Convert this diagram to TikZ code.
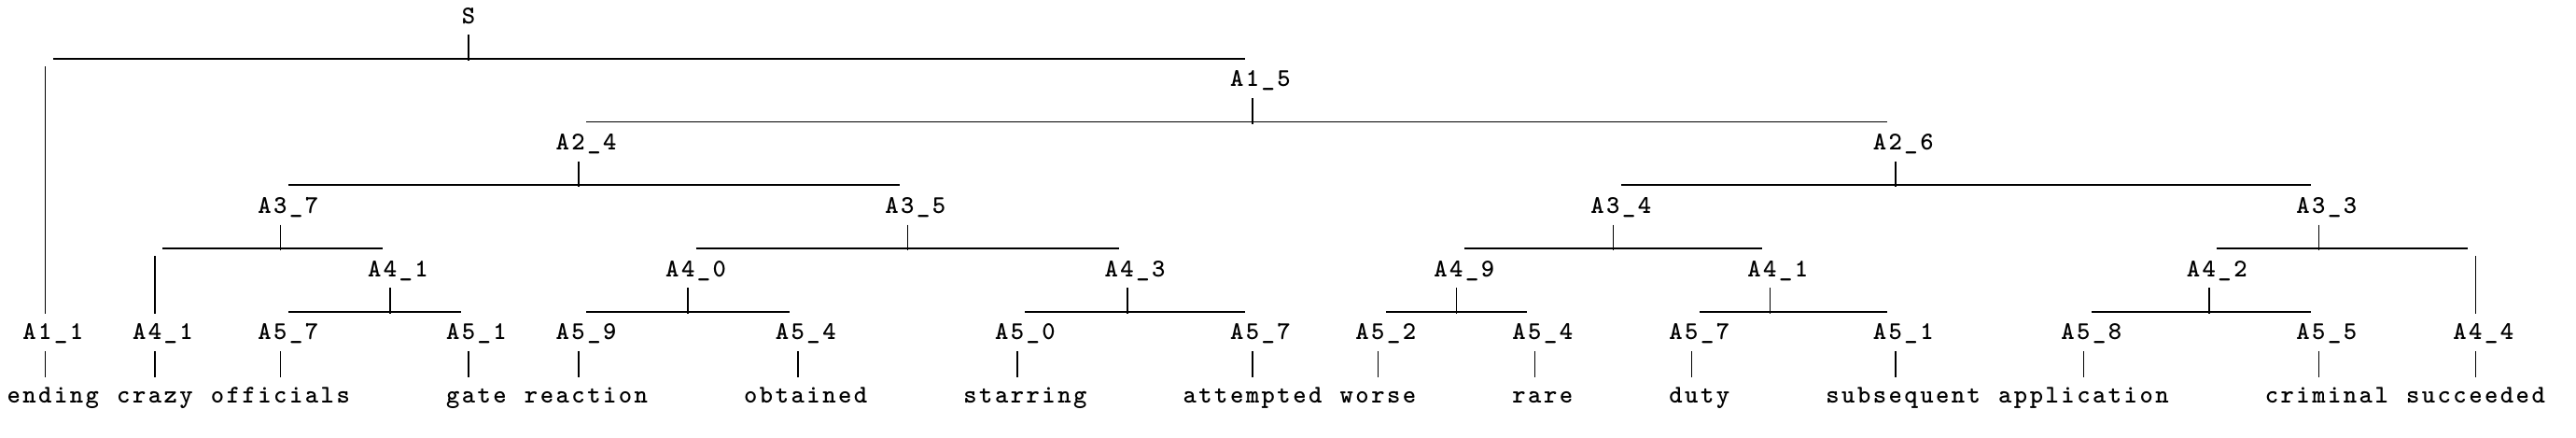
\documentclass[tikz,border=0pt]{standalone}
\usepackage{fontspec}
\usetikzlibrary{calc}

% bold typewriter face with Courier-like pitch (6pt per character)
\newfontfamily\lmttbold{lmmonolt10-bold.otf}[LetterSpace=9.1]
\newcommand\treefont{\fontsize{9.75}{11}\lmttbold}
% even-length text: centre the box on the middle-left character
\newcommand\ev[1]{\setbox0\hbox{#1}\makebox[\dimexpr\wd0-6pt\relax][l]{#1}}

\tikzset{
  lbl/.style={font=\treefont, inner sep=0pt, anchor=base},
  edge/.style={line width=0.65pt},
  bar/.style={edge, shorten <=3pt, shorten >=3pt},
}

\begin{document}
\begin{tikzpicture}[x=6pt, y=-12.1pt]
\useasboundingbox (0,0) rectangle (985.71pt,-167.14pt);
\begin{scope}[shift={(5.29pt,-8.93pt)}]
% inner labels
\node[lbl] (nS) at (29,0) {S};
\node[lbl] (n15) at (79,2) {\ev{A1\_5}};
\node[lbl] (n24) at (36,4) {\ev{A2\_4}};
\node[lbl] (n26) at (120,4) {\ev{A2\_6}};
\node[lbl] (n37) at (17,6) {\ev{A3\_7}};
\node[lbl] (n35) at (57,6) {\ev{A3\_5}};
\node[lbl] (n34) at (102,6) {\ev{A3\_4}};
\node[lbl] (n33) at (147,6) {\ev{A3\_3}};
\node[lbl] (n41a) at (24,8) {\ev{A4\_1}};
\node[lbl] (n40) at (43,8) {\ev{A4\_0}};
\node[lbl] (n43) at (71,8) {\ev{A4\_3}};
\node[lbl] (n49) at (92,8) {\ev{A4\_9}};
\node[lbl] (n41c) at (112,8) {\ev{A4\_1}};
\node[lbl] (n42) at (140,8) {\ev{A4\_2}};
% preterminals
\node[lbl] (n11) at (2,10) {\ev{A1\_1}};
\node[lbl] (n41b) at (9,10) {\ev{A4\_1}};
\node[lbl] (n57a) at (17,10) {\ev{A5\_7}};
\node[lbl] (n51a) at (29,10) {\ev{A5\_1}};
\node[lbl] (n59) at (36,10) {\ev{A5\_9}};
\node[lbl] (n54a) at (50,10) {\ev{A5\_4}};
\node[lbl] (n50) at (64,10) {\ev{A5\_0}};
\node[lbl] (n57b) at (79,10) {\ev{A5\_7}};
\node[lbl] (n52) at (87,10) {\ev{A5\_2}};
\node[lbl] (n54b) at (97,10) {\ev{A5\_4}};
\node[lbl] (n57c) at (107,10) {\ev{A5\_7}};
\node[lbl] (n51b) at (120,10) {\ev{A5\_1}};
\node[lbl] (n58) at (132,10) {\ev{A5\_8}};
\node[lbl] (n55) at (147,10) {\ev{A5\_5}};
\node[lbl] (n44) at (157,10) {\ev{A4\_4}};
% words
\node[lbl] (ending) at (2,12) {\ev{ending}};
\node[lbl] (crazy) at (9,12) {crazy};
\node[lbl] (officials) at (17,12) {officials};
\node[lbl] (gate) at (29,12) {\ev{gate}};
\node[lbl] (reaction) at (36,12) {\ev{reaction}};
\node[lbl] (obtained) at (50,12) {\ev{obtained}};
\node[lbl] (starring) at (64,12) {\ev{starring}};
\node[lbl] (attempted) at (79,12) {attempted};
\node[lbl] (worse) at (87,12) {worse};
\node[lbl] (rare) at (97,12) {\ev{rare}};
\node[lbl] (duty) at (107,12) {\ev{duty}};
\node[lbl] (subsequent) at (120,12) {\ev{subsequent}};
\node[lbl] (application) at (132,12) {application};
\node[lbl] (criminal) at (147,12) {\ev{criminal}};
\node[lbl] (succeeded) at (157,12) {succeeded};

% branchings: parent stem and underscore bar
\foreach \p/\l/\r in {nS/n11/n15, n15/n24/n26, n24/n37/n35, n26/n34/n33,
    n37/n41b/n41a, n35/n40/n43, n34/n49/n41c, n33/n42/n44,
    n41a/n57a/n51a, n40/n59/n54a, n43/n50/n57b, n49/n52/n54b,
    n41c/n57c/n51b, n42/n58/n55} {
  \coordinate (\p-bar) at ([yshift=-13.5pt]\p.base);
  \draw[edge] ([yshift=-4.4pt]\p.base) -- ([yshift=-14.2pt]\p.base);
  \draw[bar] (\l |- \p-bar) -- (\r |- \p-bar);
}
% children that skip levels
\draw[edge, shorten <=3pt] (n11 |- nS-bar) -- ([yshift=10pt]n11.base);
\draw[edge, shorten <=3pt] (n41b |- n37-bar) -- ([yshift=10pt]n41b.base);
\draw[edge, shorten <=3pt] (n44 |- n33-bar) -- ([yshift=10pt]n44.base);
% preterminal to word
\foreach \a/\b in {n11/ending, n41b/crazy, n57a/officials, n51a/gate,
    n59/reaction, n54a/obtained, n50/starring, n57b/attempted, n52/worse,
    n54b/rare, n57c/duty, n51b/subsequent, n58/application, n55/criminal,
    n44/succeeded}
  \draw[edge] ([yshift=-4.4pt]\a.base) -- ([yshift=10pt]\b.base);
\end{scope}
\end{tikzpicture}
\end{document}
